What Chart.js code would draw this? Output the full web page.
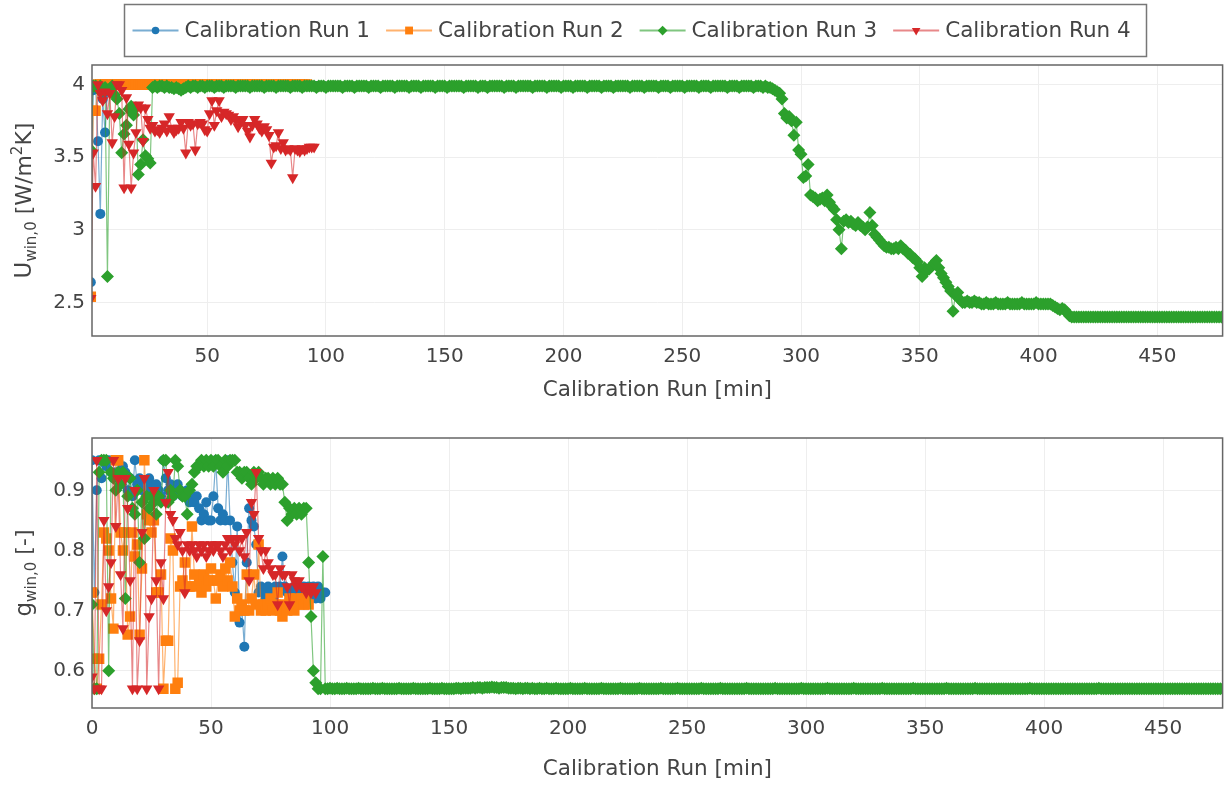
<!DOCTYPE html>
<html>
<head>
<meta charset="utf-8">
<script src="https://cdn.jsdelivr.net/npm/chart.js@4.4.1/dist/chart.umd.min.js"></script>
<style>
  html, body { margin: 0; padding: 0; background: #fff; }
  #wrap { position: relative; width: 1230px; height: 785px; overflow: hidden; }
  #chartU { position: absolute; left: 0; top: 0; }
  #chartG { position: absolute; left: 0; top: 415px; }
</style>
</head>
<body>
<div id="wrap">
  <canvas id="chartU" width="1230" height="415"></canvas>
  <canvas id="chartG" width="1230" height="370"></canvas>
</div>
<script>
// ---- series names and axis ticks ----
const seriesNames = ['Calibration Run 1', 'Calibration Run 2', 'Calibration Run 3', 'Calibration Run 4'];
const minuteTicksTop = [50, 100, 150, 200, 250, 300, 350, 400, 450];
const minuteTicksBottom = [0, 50, 100, 150, 200, 250, 300, 350, 400, 450];
const uTicks = [2.5, 3, 3.5, 4];
const gTicks = [0.6, 0.7, 0.8, 0.9];

// ---- U_win,0 per minute (first value at minute 1) ----
const uRun1 = [
  2.64, 3.96, 4, 3.61, 3.11, 3.90, 3.67, 3.95,
  4, 4, 4, 4, 4, 4, 4, 4, 4, 4, 4, 4, 4, 4, 4, 4, 4, 4, 4, 4,
  4, 4, 4, 4, 4, 4, 4, 4, 4, 4, 4, 4, 4, 4, 4, 4, 4, 4, 4, 4,
  4, 4, 4, 4, 4, 4, 4, 4, 4, 4, 4, 4, 4, 4, 4, 4, 4, 4, 4, 4,
  4, 4, 4, 4, 4, 4, 4, 4, 4, 4, 4, 4, 4, 4, 4, 4, 4, 4, 4, 4,
  4, 4, 4, 4, 3.99, 3.99, 3.99, 3.99, 3.99, 3.99, 3.99
];
const uRun2 = [
  2.54, 3.82, 3.82,
  4, 4, 4, 4, 4, 4, 4, 4, 4, 4, 4, 4, 4, 4, 4, 4, 4, 4, 4, 4,
  4, 4, 4, 4, 4, 4, 4, 4, 4, 4, 4, 4, 4, 4, 4, 4, 4, 4, 4, 4,
  4, 4, 4, 4, 4, 4, 4, 4, 4, 4, 4, 4, 4, 4, 4, 4, 4, 4, 4, 4,
  4, 4, 4, 4, 4, 4, 4, 4, 4, 4, 4, 4, 4, 4, 4, 4, 4, 4, 4, 4,
  4, 4, 4, 4, 4, 4, 4, 4, 4
];
const uRun3 = [
  3.55, 3.99, 3.99, 3.97, 3.99, 3.96, 3.98, 2.68, 3.97, 3.99, 3.93, 3.90, 3.80, 3.53, 3.66, 3.72, 3.83, 3.85, 3.79, 3.84,
  3.38, 3.45, 3.62, 3.51, 3.49, 3.46,
  3.98, 3.99, 3.98, 3.99, 3.99, 3.98, 3.99, 3.98, 3.98, 3.97, 3.98, 3.97, 3.96, 3.97, 3.98, 3.99, 3.98, 3.99, 3.99, 3.98,
  3.99, 3.99, 3.98, 3.99, 3.99, 3.99, 3.98, 3.99, 3.99, 3.99, 3.98, 3.99, 3.99, 3.99, 3.99, 3.98, 3.99, 3.99, 3.99, 3.99,
  3.99, 3.98, 3.99, 3.99, 3.99, 3.99, 3.99, 3.98, 3.99, 3.99, 3.99, 3.99, 3.98, 3.99, 3.99, 3.99, 3.99, 3.99, 3.98, 3.99,
  3.99, 3.99, 3.99, 3.98, 3.99, 3.99, 3.99, 3.99, 3.99, 3.98, 3.99, 3.99, 3.99, 3.98, 3.99, 3.99, 3.99, 3.99, 3.99, 3.99,
  3.98, 3.99, 3.99, 3.99, 3.99, 3.98, 3.99, 3.99, 3.99, 3.99, 3.99, 3.98, 3.99, 3.99, 3.99, 3.99, 3.98, 3.99, 3.99, 3.99,
  3.99, 3.99, 3.98, 3.99, 3.99, 3.99, 3.99, 3.99, 3.98, 3.99, 3.99, 3.99, 3.99, 3.98, 3.99, 3.99, 3.99, 3.99, 3.99, 3.98,
  3.99, 3.99, 3.99, 3.99, 3.98, 3.99, 3.99, 3.99, 3.99, 3.99, 3.99, 3.98, 3.99, 3.99, 3.99, 3.99, 3.99, 3.98, 3.99, 3.99,
  3.99, 3.98, 3.99, 3.99, 3.99, 3.99, 3.99, 3.99, 3.98, 3.99, 3.99, 3.99, 3.99, 3.98, 3.99, 3.99, 3.99, 3.99, 3.99, 3.99,
  3.98, 3.99, 3.99, 3.99, 3.99, 3.99, 3.98, 3.99, 3.99, 3.99, 3.99, 3.99, 3.98, 3.99, 3.99, 3.99, 3.99, 3.98, 3.99, 3.99,
  3.99, 3.99, 3.99, 3.98, 3.99, 3.99, 3.99, 3.99, 3.99, 3.98, 3.99, 3.99, 3.99, 3.99, 3.98, 3.99, 3.99, 3.99, 3.99, 3.99,
  3.99, 3.98, 3.99, 3.99, 3.99, 3.99, 3.99, 3.98, 3.99, 3.99, 3.99, 3.99, 3.99, 3.98, 3.99, 3.99, 3.99, 3.99, 3.98, 3.99,
  3.99, 3.99, 3.99, 3.99, 3.98, 3.99, 3.99, 3.99, 3.99, 3.99, 3.98, 3.99, 3.99, 3.99, 3.99, 3.98, 3.99, 3.99, 3.99, 3.99,
  3.99, 3.99, 3.98, 3.99, 3.99, 3.99, 3.99, 3.98, 3.99, 3.99, 3.99, 3.99, 3.99, 3.98, 3.99, 3.99, 3.99, 3.98, 3.99, 3.98,
  3.98, 3.97, 3.96, 3.95, 3.94, 3.90, 3.80, 3.77, 3.78, 3.75, 3.65, 3.74, 3.55, 3.52, 3.36, 3.37, 3.45, 3.24, 3.23, 3.22,
  3.20, 3.21, 3.22, 3.20, 3.24, 3.19, 3.16, 3.14, 3.07, 3.00, 2.87, 3.06, 3.07, 3.05, 3.06, 3.04, 3.03, 3.05, 3.03, 3.02,
  3.00, 3.02, 3.12, 3.03, 2.97, 2.95, 2.93, 2.91, 2.89, 2.88, 2.88, 2.87, 2.87, 2.88, 2.87, 2.89, 2.87, 2.86, 2.84, 2.83,
  2.81, 2.80, 2.78, 2.74, 2.68, 2.74, 2.72, 2.73, 2.75, 2.77, 2.79, 2.74, 2.70, 2.67, 2.64, 2.61, 2.58, 2.44, 2.55, 2.57,
  2.52, 2.50, 2.50, 2.51, 2.50, 2.50, 2.51, 2.50, 2.50,
  2.49, 2.49, 2.50, 2.49, 2.49, 2.49, 2.50, 2.49, 2.49, 2.49, 2.49, 2.50, 2.49, 2.49, 2.49, 2.49, 2.49, 2.50, 2.49, 2.49,
  2.49, 2.49, 2.49, 2.50, 2.49, 2.49, 2.49, 2.49, 2.49, 2.49,
  2.48, 2.47, 2.46, 2.45, 2.46, 2.45, 2.43, 2.41,
  2.40, 2.40, 2.40, 2.40, 2.40, 2.40, 2.40, 2.40, 2.40, 2.40, 2.40, 2.40, 2.40, 2.40, 2.40, 2.40, 2.40, 2.40, 2.40, 2.40,
  2.40, 2.40, 2.40, 2.40, 2.40, 2.40, 2.40, 2.40, 2.40, 2.40, 2.40, 2.40, 2.40, 2.40, 2.40, 2.40, 2.40, 2.40, 2.40, 2.40,
  2.40, 2.40, 2.40, 2.40, 2.40, 2.40, 2.40, 2.40, 2.40, 2.40, 2.40, 2.40, 2.40, 2.40, 2.40, 2.40, 2.40, 2.40, 2.40, 2.40,
  2.40, 2.40, 2.40, 2.40
];
const uRun4 = [
  2.53, 3.53, 3.30, 4.00, 3.94, 3.89, 3.95, 3.80, 3.94, 3.60,
  3.78, 4.00, 4.00, 3.96, 3.29, 3.91, 3.59, 3.29, 3.53, 3.67,
  3.86, 3.84, 3.61, 3.84, 3.76, 3.70, 3.72, 3.68, 3.69, 3.67,
  3.70, 3.73, 3.68, 3.78, 3.70, 3.67, 3.69, 3.70, 3.74, 3.70,
  3.53, 3.74, 3.72, 3.73, 3.55, 3.73, 3.74, 3.73, 3.69, 3.68,
  3.80, 3.89, 3.72, 3.82, 3.89, 3.78, 3.81, 3.80, 3.79, 3.76,
  3.78, 3.76, 3.71, 3.74, 3.76, 3.72, 3.68, 3.64, 3.72, 3.76,
  3.73, 3.70, 3.68, 3.71, 3.69, 3.65, 3.46, 3.57, 3.58, 3.67,
  3.56, 3.60, 3.55, 3.56, 3.55, 3.36, 3.56, 3.55, 3.54, 3.56,
  3.55, 3.56, 3.57, 3.57, 3.57
];

// ---- g_win,0 per minute (first value at minute 0) ----
const gRun1 = [
  0.95, 0.73, 0.90, 0.95, 0.92, 0.95, 0.94, 0.95, 0.93, 0.92,
  0.93, 0.95, 0.91, 0.94, 0.93, 0.90, 0.92, 0.89, 0.95, 0.91,
  0.92, 0.90, 0.91, 0.90, 0.92, 0.91, 0.89, 0.91, 0.90, 0.89,
  0.95, 0.92, 0.90, 0.91, 0.89, 0.90, 0.91, 0.90, 0.89, 0.89,
  0.90, 0.88, 0.89, 0.88, 0.89, 0.87, 0.85, 0.86, 0.88, 0.85,
  0.85, 0.89, 0.95, 0.87, 0.85, 0.86, 0.85, 0.95, 0.85, 0.78,
  0.73, 0.84, 0.68, 0.70, 0.64, 0.78, 0.87, 0.85, 0.84, 0.81,
  0.73, 0.74, 0.73, 0.72, 0.74, 0.73, 0.72, 0.74, 0.73, 0.74,
  0.79, 0.74, 0.73, 0.72, 0.73, 0.74, 0.73, 0.74, 0.73, 0.74,
  0.73, 0.74, 0.73, 0.74, 0.72, 0.74, 0.72, 0.73, 0.73
];
const gRun2 = [
  0.73, 0.62, 0.57, 0.62, 0.71, 0.83, 0.82, 0.80, 0.72, 0.67,
  0.95, 0.95, 0.83, 0.80, 0.83, 0.66, 0.69, 0.83, 0.79, 0.81,
  0.66, 0.77, 0.95, 0.86, 0.85, 0.83, 0.85, 0.73, 0.73, 0.76,
  0.57, 0.65, 0.65, 0.82, 0.80, 0.57, 0.58, 0.74, 0.75, 0.78,
  0.74, 0.74, 0.84, 0.76, 0.74, 0.75, 0.73, 0.76, 0.74, 0.75,
  0.77, 0.75, 0.72, 0.75, 0.76, 0.74, 0.77, 0.75, 0.78, 0.74,
  0.69, 0.72, 0.70, 0.71, 0.70, 0.76, 0.70, 0.72, 0.76, 0.71,
  0.81, 0.70, 0.71, 0.70, 0.71, 0.72, 0.70, 0.71, 0.73, 0.70,
  0.69, 0.71, 0.70, 0.72, 0.71, 0.70, 0.72, 0.71, 0.72, 0.71,
  0.72, 0.71
];
const gRun3 = [
  0.71, 0.57, 0.57, 0.93, 0.95, 0.95, 0.95, 0.60, 0.93, 0.92,
  0.90, 0.93, 0.91, 0.93, 0.72, 0.89, 0.92, 0.87, 0.86, 0.90,
  0.78, 0.88, 0.82, 0.89, 0.87, 0.89, 0.88, 0.86, 0.89, 0.88,
  0.95, 0.95, 0.88, 0.90, 0.89, 0.95, 0.94, 0.90, 0.89, 0.89,
  0.86, 0.90, 0.91, 0.93, 0.94, 0.94, 0.95, 0.94, 0.95, 0.94,
  0.95, 0.94, 0.95, 0.95, 0.94, 0.93, 0.95, 0.94, 0.95, 0.95,
  0.95, 0.93, 0.93, 0.92, 0.93, 0.93, 0.92, 0.91, 0.93, 0.92,
  0.93, 0.92, 0.91, 0.92, 0.92, 0.91, 0.92, 0.91, 0.92, 0.91,
  0.91, 0.88, 0.85, 0.87, 0.86, 0.87, 0.86, 0.87, 0.86, 0.87,
  0.87, 0.78, 0.69, 0.60, 0.58, 0.57, 0.57, 0.79, 0.57, 0.57,
  0.571, 0.570, 0.570, 0.571, 0.570, 0.570, 0.570, 0.571, 0.570, 0.570, 0.570, 0.570, 0.571, 0.570, 0.570, 0.570, 0.570, 0.570, 0.571, 0.570,
  0.570, 0.570, 0.571, 0.570, 0.570, 0.570, 0.570, 0.570, 0.570, 0.571, 0.570, 0.570, 0.570, 0.570, 0.570, 0.571, 0.570, 0.570, 0.570, 0.570,
  0.570, 0.570, 0.571, 0.570, 0.570, 0.570, 0.570, 0.571, 0.570, 0.570, 0.570, 0.570, 0.570, 0.571, 0.571, 0.570, 0.571, 0.571, 0.571, 0.571,
  0.572, 0.571, 0.572, 0.572, 0.571, 0.572, 0.572, 0.572, 0.573, 0.572, 0.572, 0.571, 0.572, 0.572, 0.572, 0.571, 0.571, 0.571, 0.570, 0.571,
  0.571, 0.570, 0.571, 0.571, 0.570, 0.571, 0.570, 0.570, 0.571, 0.570, 0.570, 0.571, 0.570, 0.570, 0.570, 0.571, 0.570, 0.570, 0.570, 0.570,
  0.570, 0.571, 0.570, 0.570, 0.570, 0.570, 0.570, 0.571, 0.570, 0.570, 0.570, 0.570, 0.570, 0.570, 0.571, 0.570, 0.570, 0.570, 0.570, 0.570,
  0.570, 0.570, 0.571, 0.570, 0.570, 0.570, 0.570, 0.570, 0.570, 0.570, 0.571, 0.570, 0.570, 0.570, 0.570, 0.570, 0.570, 0.570, 0.570, 0.571,
  0.570, 0.570, 0.570, 0.570, 0.570, 0.570, 0.571, 0.570, 0.570, 0.570, 0.570, 0.570, 0.570, 0.570, 0.570, 0.570, 0.571, 0.570, 0.570, 0.570,
  0.570, 0.570, 0.570, 0.570, 0.571, 0.570, 0.570, 0.570, 0.570, 0.570, 0.570, 0.570, 0.570, 0.570, 0.570, 0.571, 0.570, 0.570, 0.570, 0.570,
  0.570, 0.570, 0.570, 0.570, 0.570, 0.570, 0.570, 0.571, 0.570, 0.570, 0.570, 0.570, 0.570, 0.570, 0.570, 0.570, 0.570, 0.570, 0.571, 0.570,
  0.570, 0.570, 0.570, 0.570, 0.570, 0.570, 0.570, 0.570, 0.570, 0.571, 0.570, 0.570, 0.570, 0.570, 0.570, 0.570, 0.570, 0.570, 0.570, 0.570,
  0.571, 0.570, 0.570, 0.570, 0.570, 0.570, 0.570, 0.570, 0.570, 0.570, 0.570, 0.570, 0.571, 0.570, 0.570, 0.570, 0.570, 0.570, 0.570, 0.570,
  0.570, 0.570, 0.570, 0.570, 0.570, 0.571, 0.570, 0.570, 0.570, 0.570, 0.570, 0.570, 0.570, 0.570, 0.570, 0.570, 0.570, 0.570, 0.570, 0.571,
  0.570, 0.570, 0.570, 0.570, 0.570, 0.570, 0.570, 0.570, 0.570, 0.570, 0.570, 0.571, 0.570, 0.570, 0.570, 0.570, 0.570, 0.570, 0.570, 0.570,
  0.570, 0.570, 0.570, 0.570, 0.570, 0.570, 0.570, 0.570, 0.570, 0.570, 0.570, 0.570, 0.570, 0.570, 0.571, 0.570, 0.570, 0.570, 0.570, 0.570,
  0.570, 0.570, 0.570, 0.570, 0.570, 0.570, 0.570, 0.570, 0.570, 0.570, 0.570, 0.570, 0.570, 0.570, 0.570, 0.570, 0.570, 0.570, 0.570, 0.570,
  0.570, 0.570, 0.570, 0.571, 0.570, 0.570, 0.570, 0.570, 0.570, 0.570, 0.570, 0.570, 0.570, 0.570, 0.570, 0.570, 0.570, 0.570, 0.570, 0.570,
  0.570, 0.570, 0.570, 0.570, 0.570, 0.570, 0.570, 0.570, 0.570, 0.570, 0.570, 0.570, 0.570, 0.570, 0.570, 0.570, 0.570, 0.570, 0.570, 0.570,
  0.570, 0.570, 0.570, 0.570, 0.570, 0.570, 0.570, 0.570, 0.570, 0.570, 0.570, 0.570, 0.570, 0.570, 0.570, 0.570, 0.570
];
const gRun4 = [
  0.59, 0.57, 0.95, 0.57, 0.57, 0.85, 0.70, 0.74, 0.78, 0.95,
  0.84, 0.92, 0.76, 0.67, 0.92, 0.87, 0.75, 0.57, 0.90, 0.57,
  0.65, 0.83, 0.92, 0.57, 0.69, 0.72, 0.90, 0.75, 0.57, 0.78,
  0.72, 0.88, 0.93, 0.86, 0.85, 0.82, 0.81, 0.83, 0.80, 0.73,
  0.81, 0.80, 0.81, 0.80, 0.79, 0.81, 0.80, 0.81, 0.79, 0.80,
  0.81, 0.80, 0.81, 0.81, 0.80, 0.79, 0.81, 0.82, 0.80, 0.82,
  0.81, 0.82, 0.80, 0.82, 0.79, 0.83, 0.75, 0.88, 0.86, 0.93,
  0.82, 0.80, 0.77, 0.80, 0.78, 0.77, 0.76, 0.76, 0.71, 0.77,
  0.76, 0.76, 0.74, 0.71, 0.76, 0.75, 0.74, 0.75, 0.74, 0.74,
  0.73, 0.74, 0.73, 0.74, 0.73
];

// ---- styling ----
const FONT = '"DejaVu Sans", Verdana, sans-serif';
const TEXT = '#444';
const markerColors = ['#1f77b4', '#ff7f0e', '#2ca02c', '#d62728'];
const lineColors = ['rgba(31,119,180,0.6)', 'rgba(255,127,14,0.6)', 'rgba(44,160,44,0.6)', 'rgba(214,39,40,0.55)'];
const markerShapes = [
  { style: 'circle', radius: 5, rotation: 0 },
  { style: 'rect', radius: 7.4, rotation: 0 },
  { style: 'rectRot', radius: 6.5, rotation: 0 },
  { style: 'triangle', radius: 6.6, rotation: 180 }
];

function buildDatasets(lists, firstMinute) {
  return lists.map((vals, k) => ({
    label: seriesNames[k],
    data: vals.map((v, i) => ({ x: i + firstMinute, y: v })),
    borderColor: lineColors[k],
    backgroundColor: markerColors[k],
    borderWidth: 1.2,
    pointStyle: markerShapes[k].style,
    pointRadius: markerShapes[k].radius,
    pointRotation: markerShapes[k].rotation,
    pointBackgroundColor: markerColors[k],
    pointBorderWidth: 0,
    pointHoverRadius: markerShapes[k].radius,
    tension: 0,
    clip: 0,
    order: 4 - k
  }));
}

// frame around the plotting area
const plotFrame = {
  id: 'plotFrame',
  afterDraw(chart) {
    const { ctx, chartArea: a } = chart;
    ctx.save();
    ctx.strokeStyle = '#666';
    ctx.lineWidth = 1.5;
    ctx.strokeRect(a.left, a.top, a.right - a.left, a.bottom - a.top);
    ctx.restore();
  }
};

// vertical axis title with sub/superscripts
const richYTitle = {
  id: 'richYTitle',
  afterDraw(chart, args, opts) {
    if (!opts || !opts.parts) return;
    const ctx = chart.ctx;
    const a = chart.chartArea;
    ctx.save();
    ctx.fillStyle = TEXT;
    ctx.textBaseline = 'alphabetic';
    ctx.textAlign = 'left';
    let total = 0;
    const parts = opts.parts.map(p => {
      ctx.font = p.size + 'px ' + FONT;
      const w = ctx.measureText(p.text).width;
      total += w;
      return Object.assign({ w }, p);
    });
    ctx.translate(opts.baseline, (a.top + a.bottom) / 2 + (opts.dy || 0));
    ctx.rotate(-Math.PI / 2);
    let x = -total / 2;
    parts.forEach(p => {
      ctx.font = p.size + 'px ' + FONT;
      ctx.fillText(p.text, x, p.shift || 0);
      x += p.w;
    });
    ctx.restore();
  }
};

// boxed legend: line + marker + label for each run
const boxedLegend = {
  id: 'boxedLegend',
  afterDraw(chart, args, opts) {
    if (!opts || !opts.show) return;
    const ctx = chart.ctx;
    ctx.save();
    ctx.strokeStyle = '#777';
    ctx.lineWidth = 1.5;
    ctx.strokeRect(opts.left, opts.top, opts.width, opts.height);
    const cy = opts.top + opts.height / 2;
    let x = opts.left + 8;
    ctx.font = opts.fontSize + 'px ' + FONT;
    ctx.textBaseline = 'middle';
    ctx.textAlign = 'left';
    chart.data.datasets.forEach((ds, k) => {
      ctx.strokeStyle = lineColors[k];
      ctx.lineWidth = 2;
      ctx.beginPath();
      ctx.moveTo(x, cy);
      ctx.lineTo(x + 46, cy);
      ctx.stroke();
      ctx.fillStyle = markerColors[k];
      Chart.helpers.drawPoint(ctx, {
        pointStyle: markerShapes[k].style,
        radius: markerShapes[k].radius * 0.75,
        rotation: markerShapes[k].rotation,
        borderWidth: 0
      }, x + 23, cy);
      ctx.fillStyle = TEXT;
      ctx.fillText(ds.label, x + 52, cy + 1);
      x += 52 + ctx.measureText(ds.label).width + 16;
    });
    ctx.restore();
  }
};

function scaleX(min, max, ticks, height, titleBottom) {
  return {
    type: 'linear', min, max,
    afterBuildTicks: s => { s.ticks = ticks.map(v => ({ value: v })); },
    afterFit: s => { s.height = height; },
    grid: { color: '#eee', lineWidth: 1, drawTicks: false },
    border: { display: false },
    ticks: { font: { family: FONT, size: 20 }, color: TEXT, padding: 9, maxRotation: 0, autoSkip: false,
             callback: v => String(v) },
    title: { display: true, text: 'Calibration Run [min]', color: TEXT,
             font: { family: FONT, size: 21.5, lineHeight: 1 }, padding: { top: 0, bottom: titleBottom } }
  };
}
function scaleY(min, max, ticks) {
  return {
    type: 'linear', min, max,
    afterBuildTicks: s => { s.ticks = ticks.map(v => ({ value: v })); },
    afterFit: s => { s.width = 92; },
    grid: { color: '#eee', lineWidth: 1, drawTicks: false },
    border: { display: false },
    ticks: { font: { family: FONT, size: 20 }, color: TEXT, padding: 7, autoSkip: false,
             callback: v => String(v) }
  };
}

const common = {
  responsive: false,
  animation: false,
  devicePixelRatio: 1,
  events: []
};

new Chart(document.getElementById('chartU'), {
  type: 'line',
  data: { datasets: buildDatasets([uRun1, uRun2, uRun3, uRun4], 1) },
  options: Object.assign({}, common, {
    layout: { padding: { left: 0, right: 2, top: 65, bottom: 0 } },
    scales: {
      x: scaleX(1.5, 477.5, minuteTicksTop, 79, 14),
      y: scaleY(2.27, 4.134, uTicks)
    },
    plugins: {
      legend: { display: false },
      tooltip: { enabled: false },
      richYTitle: {
        baseline: 31, dy: 0,
        parts: [
          { text: 'U', size: 23 },
          { text: 'win,0', size: 15, shift: 5 },
          { text: ' [W/m', size: 22 },
          { text: '2', size: 15, shift: -9 },
          { text: 'K]', size: 22 }
        ]
      },
      boxedLegend: { show: true, left: 124.5, top: 4.5, width: 1022, height: 52, fontSize: 21.5 }
    }
  }),
  plugins: [plotFrame, richYTitle, boxedLegend]
});

new Chart(document.getElementById('chartG'), {
  type: 'line',
  data: { datasets: buildDatasets([gRun1, gRun2, gRun3, gRun4], 0) },
  options: Object.assign({}, common, {
    layout: { padding: { left: 0, right: 2, top: 23, bottom: 0 } },
    scales: {
      x: scaleX(0, 475, minuteTicksBottom, 77, 5),
      y: scaleY(0.538, 0.987, gTicks)
    },
    plugins: {
      legend: { display: false },
      tooltip: { enabled: false },
      richYTitle: {
        baseline: 31, dy: 0,
        parts: [
          { text: 'g', size: 23 },
          { text: 'win,0', size: 15, shift: 5 },
          { text: ' [-]', size: 22 }
        ]
      }
    }
  }),
  plugins: [plotFrame, richYTitle]
});
</script>
</body>
</html>
